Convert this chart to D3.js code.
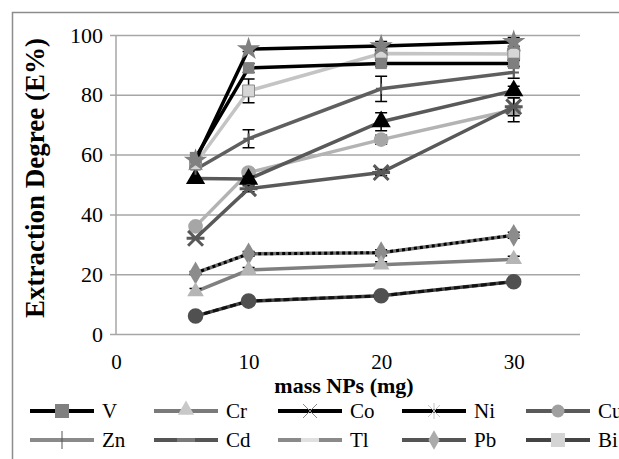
<!DOCTYPE html>
<html><head><meta charset="utf-8">
<script src="https://cdn.jsdelivr.net/npm/d3@7"></script>
<style>html,body{margin:0;padding:0;background:#fff;overflow:hidden}svg{display:block}</style>
</head><body>
<svg id="c" width="619" height="459"></svg>
<script>
const masses = [6, 10, 20, 30];
const xTicks = [0, 10, 20, 30];
const yTicks = [0, 20, 40, 60, 80, 100];
const seriesNames = ["V","Cr","Co","Ni","Cu","Zn","Cd","Tl","Pb","Bi"];
const vV  = [59, 89, 90.5, 90.5];
const vCr = [14.2, 21.4, 23.2, 25];
const vCo = [58, 95.3, 96.3, 97.7];
const vNi = [32, 48.6, 54, 76];
const vCu = [36, 54, 65, 75];
const vZn = [55, 65.3, 82, 87.5];
const vCd = [52, 51.8, 71, 81.4];
const vTl = [6, 11, 12.8, 17.5];
const vPb = [20.4, 26.8, 27.2, 33];
const vBi = [57, 81.3, 93.8, 93.6];
const eV  = [0, 1.5, 1, 1];
const eCr = [1, 0.8, 1, 1];
const eCo = [0, 0.8, 1.5, 1.5];
const eNi = [0, 1, 1, 3];
const eCu = [0, 1, 1.5, 4];
const eZn = [0, 3, 4.2, 2];
const eCd = [0, 1, 3, 1.5];
const eTl = [0.5, 0.8, 0.8, 1];
const ePb = [0.5, 0.8, 1, 1];
const eBi = [1.5, 4, 1.5, 2];

const values = [vV,vCr,vCo,vNi,vCu,vZn,vCd,vTl,vPb,vBi];
const errs = [eV,eCr,eCo,eNi,eCu,eZn,eCd,eTl,ePb,eBi];

const plotStyle = {
  V:  {line:"#000", w:3.5, sym:"square", fill:"#7f7f7f", size:130},
  Cr: {line:"#7f7f7f", w:3.5, sym:"triangle", fill:"#b5b5b5", size:120},
  Co: {line:"#000", w:3.5, sym:"star", fill:"#808080", size:170},
  Ni: {line:"#595959", w:3.5, sym:"xstar", fill:"#595959", size:160},
  Cu: {line:"#b3b3b3", w:3.5, sym:"circle", fill:"#a6a6a6", size:170},
  Zn: {line:"#5f5f5f", w:3.5, sym:"plus", fill:"#5f5f5f", size:110},
  Cd: {line:"#595959", w:3.5, sym:"triangle", fill:"#000", size:160},
  Tl: {line:"#111", w:3.5, sym:"circle", fill:"#505050", size:190, dash:"6,3", under:"#444"},
  Pb: {line:"#6e6e6e", w:3.5, sym:"diamond", fill:"#8c8c8c", size:150, dash:"3,3", under:"#6e6e6e", over:"#000"},
  Bi: {line:"#c4c4c4", w:3.5, sym:"square", fill:"#d6d6d6", size:140, stroke:"#8c8c8c"}
};
const legendStyle = {
  V:  {line:"#000", mk:"square", fill:"#808080"},
  Cr: {line:"#7a7a7a", mk:"triangle", fill:"#c8c8c8"},
  Co: {line:"#000", mk:"x", fill:"#888"},
  Ni: {line:"#000", mk:"ast", fill:"#c4c4c4"},
  Cu: {line:"#5a5a5a", mk:"circle", fill:"#a0a0a0"},
  Zn: {line:"#8a8a8a", mk:"vbar", fill:"#555"},
  Cd: {line:"#555", mk:"dash", fill:"#7a7a7a"},
  Tl: {line:"#8a8a8a", mk:"dash", fill:"#e0e0e0"},
  Pb: {line:"#555", mk:"diamond", fill:"#ababab"},
  Bi: {line:"#444", mk:"square", fill:"#d4d4d4"}
};

const svg = d3.select("#c");
const L = 116, R = 580, T = 35, B = 334;
const x = d3.scaleLinear().domain([0, 35]).range([L, R]);
const y = d3.scaleLinear().domain([0, 100]).range([B, T]);
const serif = "'Liberation Serif','Times New Roman',serif";

svg.append("rect").attr("x",12.5).attr("y",12.5).attr("width",700).attr("height",500)
  .attr("fill","none").attr("stroke","#8c8c8c").attr("stroke-width",1.5);

const yAxis = d3.axisLeft(y).tickValues(yTicks).tickSize(R - L + 6).tickPadding(7).tickFormat(d3.format("d"));
const gy = svg.append("g").attr("transform",`translate(${R},0)`).call(yAxis);
gy.select(".domain").remove();
gy.selectAll(".tick line").attr("stroke","#a6a6a6").attr("stroke-width",1.5);
gy.selectAll(".tick text").attr("font-family",serif).attr("font-size",22).attr("fill","#000");
svg.append("line").attr("x1",L).attr("x2",L).attr("y1",T).attr("y2",B)
  .attr("stroke","#a6a6a6").attr("stroke-width",1.5);

const xAxis = d3.axisBottom(x).tickValues(xTicks).tickSize(0).tickPadding(20).tickFormat(d3.format("d"));
const gx = svg.append("g").attr("transform",`translate(0,${B})`).call(xAxis);
gx.select(".domain").remove();
gx.selectAll(".tick text").attr("font-family",serif).attr("font-size",21).attr("fill","#000");

svg.append("text").attr("x",(L+R)/2 - 4).attr("y",393).attr("text-anchor","middle")
  .attr("font-family",serif).attr("font-weight","bold").attr("font-size",22).text("mass NPs (mg)");
svg.append("text").attr("transform",`translate(44,178) rotate(-90)`).attr("text-anchor","middle")
  .attr("font-family",serif).attr("font-weight","bold").attr("font-size",27).text("Extraction Degree (E%)");

const line = d3.line().x(d => x(d[0])).y(d => y(d[1]));

function drawMarker(g, sym, cx, cy, st) {
  const s = Math.sqrt(st.size);
  if (sym === "plus") {
    g.append("path").attr("d",`M${cx-s/2},${cy}H${cx+s/2}M${cx},${cy-s/2}V${cy+s/2}`)
      .attr("stroke",st.fill).attr("stroke-width",2);
  } else if (sym === "xstar") {
    const r = s/1.7;
    g.append("path").attr("d",`M${cx-r},${cy-r}L${cx+r},${cy+r}M${cx-r},${cy+r}L${cx+r},${cy-r}M${cx-r*1.2},${cy}H${cx+r*1.2}`)
      .attr("stroke",st.fill).attr("stroke-width",3);
  } else {
    const map = {square:d3.symbolSquare, triangle:d3.symbolTriangle, star:d3.symbolStar, circle:d3.symbolCircle, diamond:d3.symbolDiamond};
    g.append("path").attr("d", d3.symbol().type(map[sym]).size(st.size)())
      .attr("transform",`translate(${cx},${cy})`)
      .attr("fill",st.fill).attr("stroke",st.stroke || "none").attr("stroke-width",1);
  }
}

const order = [7,8,1,4,3,6,5,9,0,2];
order.forEach(i => {
  const name = seriesNames[i];
  const st = plotStyle[name];
  const pts = masses.map((m,j) => [m, values[i][j]]);
  const g = svg.append("g");
  if (st.under) {
    g.append("path").attr("d",line(pts)).attr("fill","none").attr("stroke",st.under).attr("stroke-width",st.w);
    g.append("path").attr("d",line(pts)).attr("fill","none").attr("stroke",st.over || st.line).attr("stroke-width",st.w-0.5)
      .attr("stroke-dasharray",st.dash);
  } else {
    g.append("path").attr("d",line(pts)).attr("fill","none").attr("stroke",st.line).attr("stroke-width",st.w);
  }
  pts.forEach((p,j) => {
    const e = errs[i][j];
    if (e <= 0) return;
    const cx = x(p[0]), y1 = y(p[1]-e), y2 = y(p[1]+e);
    g.append("path").attr("d",`M${cx},${y1}V${y2}M${cx-6},${y1}H${cx+6}M${cx-6},${y2}H${cx+6}`)
      .attr("stroke","#000").attr("stroke-width",1.5).attr("fill","none");
  });
  pts.forEach(p => drawMarker(g, st.sym, x(p[0]), y(p[1]), st));
});

const legX = [30, 154, 278, 402, 526];
const legLen = 64;
const legY = [411, 440];
seriesNames.forEach((name, i) => {
  const col = i % 5, row = Math.floor(i / 5);
  const lx = legX[col], ly = legY[row];
  const st = legendStyle[name];
  const g = svg.append("g");
  g.append("line").attr("x1",lx).attr("x2",lx+legLen).attr("y1",ly).attr("y2",ly)
    .attr("stroke",st.line).attr("stroke-width",4);
  const cx = lx + legLen/2;
  if (st.mk === "square") {
    g.append("rect").attr("x",cx-7).attr("y",ly-7).attr("width",14).attr("height",14).attr("fill",st.fill);
  } else if (st.mk === "triangle") {
    g.append("path").attr("d",d3.symbol().type(d3.symbolTriangle).size(115)()).attr("transform",`translate(${cx},${ly-1})`).attr("fill",st.fill);
  } else if (st.mk === "circle") {
    g.append("circle").attr("cx",cx).attr("cy",ly).attr("r",6.5).attr("fill",st.fill);
  } else if (st.mk === "diamond") {
    g.append("path").attr("d",d3.symbol().type(d3.symbolDiamond).size(110)()).attr("transform",`translate(${cx},${ly})`).attr("fill",st.fill);
  } else if (st.mk === "x") {
    g.append("path").attr("d",`M${cx-7},${ly-7}L${cx+7},${ly+7}M${cx-7},${ly+7}L${cx+7},${ly-7}`).attr("stroke",st.fill).attr("stroke-width",1);
  } else if (st.mk === "ast") {
    g.append("path").attr("d",`M${cx-6},${ly-6}L${cx+6},${ly+6}M${cx-6},${ly+6}L${cx+6},${ly-6}M${cx},${ly-8}V${ly+8}`).attr("stroke",st.fill).attr("stroke-width",1);
  } else if (st.mk === "vbar") {
    g.append("path").attr("d",`M${cx},${ly-9}V${ly+9}`).attr("stroke",st.fill).attr("stroke-width",1);
  } else if (st.mk === "dash") {
    g.append("line").attr("x1",cx-9).attr("x2",cx+9).attr("y1",ly).attr("y2",ly).attr("stroke",st.fill).attr("stroke-width",4);
  }
  g.append("text").attr("x",lx+legLen+8).attr("y",ly+7).attr("font-family",serif).attr("font-size",21).text(name);
});
</script>
</body></html>
